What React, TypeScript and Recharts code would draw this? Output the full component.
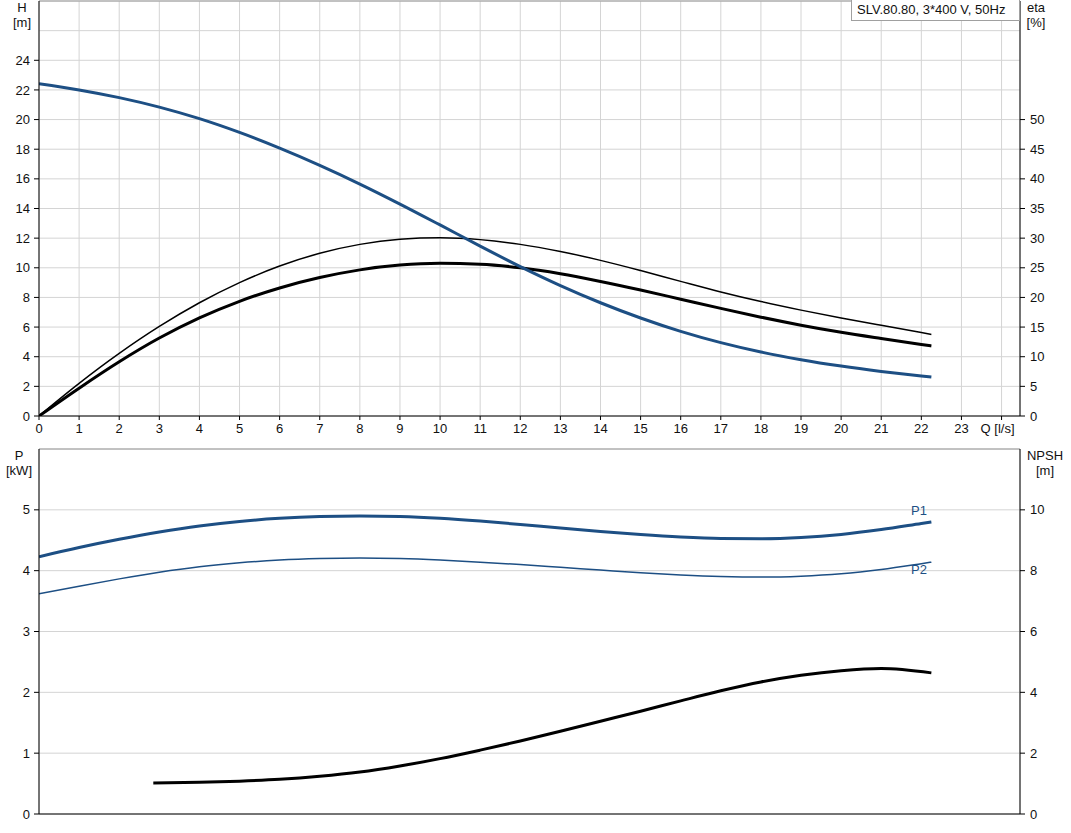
import React from "react";
import { LineChart, Line, XAxis, YAxis, CartesianGrid, ReferenceLine } from "recharts";

const FONT = '"Liberation Sans", Arial, sans-serif';
const BLUE = "#1d4f84";
const GRID = "#d4d4d4";
const BORDER = "#9a9a9a";

// axis ticks
const qTicks = [0, 1, 2, 3, 4, 5, 6, 7, 8, 9, 10, 11, 12, 13, 14, 15, 16, 17, 18, 19, 20, 21, 22, 23, 24];
const hTicks = [0, 2, 4, 6, 8, 10, 12, 14, 16, 18, 20, 22, 24];
const etaTicks = [0, 5, 10, 15, 20, 25, 30, 35, 40, 45, 50];
const pTicks = [0, 1, 2, 3, 4, 5];
const npshTicks = [0, 2, 4, 6, 8, 10];

// flow points of the curves [l/s]
const qCurve = [0, 1, 2, 3, 4, 5, 6, 7, 8, 9, 10, 11, 12, 13, 14, 15, 16, 17, 18, 19, 20, 21, 22, 22.25];
// head [m]
const headH = [22.42, 22.0, 21.48, 20.84, 20.06, 19.13, 18.07, 16.91, 15.65, 14.3, 12.89, 11.46, 10.08, 8.8, 7.64, 6.61, 5.71, 4.95, 4.32, 3.8, 3.37, 3.01, 2.7, 2.63];
// efficiency [%]
const etaThin = [0, 5.5, 10.55, 15.1, 19.1, 22.5, 25.3, 27.45, 28.95, 29.8, 30.05, 29.75, 28.95, 27.75, 26.25, 24.53, 22.71, 20.93, 19.31, 17.86, 16.54, 15.29, 14.07, 13.75];
const etaThick = [0, 4.7, 9.15, 13.15, 16.55, 19.35, 21.6, 23.35, 24.65, 25.45, 25.75, 25.6, 25.0, 24.0, 22.7, 21.25, 19.7, 18.15, 16.67, 15.32, 14.12, 13.07, 12.07, 11.82];
// power [kW]
const powerP1 = [4.23, 4.38, 4.515, 4.635, 4.735, 4.81, 4.86, 4.89, 4.9, 4.89, 4.86, 4.815, 4.76, 4.7, 4.645, 4.595, 4.555, 4.53, 4.525, 4.545, 4.595, 4.675, 4.775, 4.8];
const powerP2 = [3.62, 3.745, 3.865, 3.975, 4.065, 4.13, 4.175, 4.2, 4.21, 4.2, 4.175, 4.14, 4.1, 4.055, 4.01, 3.965, 3.93, 3.905, 3.895, 3.91, 3.95, 4.02, 4.115, 4.14];
// NPSH [m]
const qNpsh = [2.85, 4, 5, 6, 7, 8, 9, 10, 11, 12, 13, 14, 15, 16, 17, 18, 19, 20, 21, 22.25];
const npshM = [1.02, 1.04, 1.08, 1.14, 1.24, 1.38, 1.58, 1.82, 2.1, 2.4, 2.72, 3.05, 3.38, 3.72, 4.05, 4.34, 4.56, 4.71, 4.78, 4.64];

const zip = (xs: number[], ys: number[]) => xs.map((q, i) => ({ q, v: ys[i] }));

const tickStyle = { fill: "#111", fontSize: 13, fontFamily: FONT };

function QTick(props: any) {
  const { x, y, payload } = props;
  const v = payload.value;
  const last = v === 24;
  return (
    <text x={last ? x - 4 : x} y={y} dy="0.71em" textAnchor="middle" {...tickStyle}>
      {last ? "Q [l/s]" : String(v)}
    </text>
  );
}

const labelStyle: React.CSSProperties = {
  position: "absolute",
  fontSize: 13,
  fontFamily: FONT,
  color: "#111",
  textAlign: "center",
  lineHeight: "15px",
};

export default function App() {
  return (
    <div
      style={{
        position: "absolute",
        left: 0,
        top: 0,
        width: 1071,
        height: 833,
        background: "#fff",
        fontFamily: FONT,
      }}
    >
      <LineChart width={1071} height={441} margin={{ top: 1, right: 0, bottom: 0, left: 0 }}>
        <CartesianGrid xAxisId="q" yAxisId="h" stroke={GRID} />
        <XAxis
          xAxisId="q"
          type="number"
          dataKey="q"
          domain={[0, 24.46]}
          allowDataOverflow
          ticks={qTicks}
          interval={0}
          height={25}
          tickSize={4}
          tickMargin={4}
          stroke="#000"
          tick={<QTick />}
        />
        <YAxis
          yAxisId="h"
          width={39}
          domain={[0, 28]}
          allowDataOverflow
          ticks={hTicks}
          interval={0}
          tickSize={5}
          tickMargin={4}
          stroke="#000"
          tick={tickStyle}
        />
        <YAxis
          yAxisId="eta"
          orientation="right"
          width={51}
          domain={[0, 70]}
          allowDataOverflow
          ticks={etaTicks}
          interval={0}
          tickSize={5}
          tickMargin={5}
          stroke="#000"
          tick={{ ...tickStyle, textAnchor: "start" }}
        />
        <ReferenceLine xAxisId="q" yAxisId="h" y={26} stroke={GRID} />
        <ReferenceLine xAxisId="q" yAxisId="h" y={28} stroke={BORDER} />
        <Line xAxisId="q" yAxisId="eta" data={zip(qCurve, etaThin)} dataKey="v" type="monotone" stroke="#000" strokeWidth={1.5} dot={false} isAnimationActive={false} />
        <Line xAxisId="q" yAxisId="eta" data={zip(qCurve, etaThick)} dataKey="v" type="monotone" stroke="#000" strokeWidth={3} dot={false} isAnimationActive={false} />
        <Line xAxisId="q" yAxisId="h" data={zip(qCurve, headH)} dataKey="v" type="monotone" stroke={BLUE} strokeWidth={3} dot={false} isAnimationActive={false} />
      </LineChart>

      <div style={{ position: "absolute", left: 0, top: 441 }}>
        <LineChart width={1071} height={392} margin={{ top: 8, right: 0, bottom: 14, left: 0 }}>
          <CartesianGrid xAxisId="q" yAxisId="p" stroke={GRID} />
          <XAxis
            xAxisId="q"
            type="number"
            dataKey="q"
            domain={[0, 24.46]}
            allowDataOverflow
            ticks={qTicks}
            interval={0}
            height={5}
            tick={false}
            tickLine={false}
            stroke="#000"
          />
          <YAxis
            yAxisId="p"
            width={39}
            domain={[0, 6]}
            allowDataOverflow
            ticks={pTicks}
            interval={0}
            tickSize={5}
            tickMargin={4}
            stroke="#000"
            tick={tickStyle}
          />
          <YAxis
            yAxisId="npsh"
            orientation="right"
            width={51}
            domain={[0, 12]}
            allowDataOverflow
            ticks={npshTicks}
            interval={0}
            tickSize={5}
            tickMargin={5}
            stroke="#000"
            tick={{ ...tickStyle, textAnchor: "start" }}
          />
          <ReferenceLine xAxisId="q" yAxisId="p" y={6} stroke={BORDER} />
          <Line xAxisId="q" yAxisId="p" data={zip(qCurve, powerP2)} dataKey="v" type="monotone" stroke={BLUE} strokeWidth={1.5} dot={false} isAnimationActive={false} />
          <Line xAxisId="q" yAxisId="p" data={zip(qCurve, powerP1)} dataKey="v" type="monotone" stroke={BLUE} strokeWidth={3} dot={false} isAnimationActive={false} />
          <Line xAxisId="q" yAxisId="npsh" data={zip(qNpsh, npshM)} dataKey="v" type="monotone" stroke="#000" strokeWidth={3} dot={false} isAnimationActive={false} />
        </LineChart>
      </div>

      {/* axis titles */}
      <div style={{ ...labelStyle, left: 2, top: 0, width: 40 }}>H<br />[m]</div>
      <div style={{ ...labelStyle, left: 1016, top: 0, width: 40 }}>eta<br />[%]</div>
      <div style={{ ...labelStyle, left: -1, top: 448, width: 40 }}>P<br />[kW]</div>
      <div style={{ ...labelStyle, left: 1025, top: 448, width: 40 }}>NPSH<br />[m]</div>

      {/* pump label box */}
      <div
        style={{
          position: "absolute",
          left: 851,
          top: 0,
          width: 162,
          height: 20,
          paddingLeft: 5,
          border: "1px solid #a0a0a0",
          borderTop: "none",
          background: "#fff",
          fontSize: 13,
          lineHeight: "19px",
          color: "#111",
          whiteSpace: "nowrap",
        }}
      >
        SLV.80.80, 3*400 V, 50Hz
      </div>

      {/* curve names */}
      <div style={{ position: "absolute", left: 911, top: 503, fontSize: 13, color: BLUE }}>P1</div>
      <div style={{ position: "absolute", left: 911, top: 562, fontSize: 13, color: BLUE }}>P2</div>
    </div>
  );
}
